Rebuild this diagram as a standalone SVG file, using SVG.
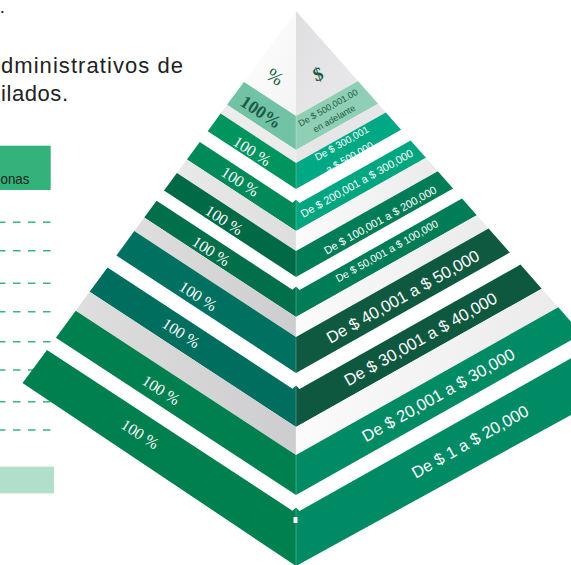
<svg xmlns="http://www.w3.org/2000/svg" width="571" height="565" viewBox="0 0 571 565">
<defs>
<style>
.hdr{font-family:"Liberation Sans",Arial,sans-serif;font-size:22px;fill:#222222}
.pl{font-family:"Liberation Serif","DejaVu Serif",serif;font-size:16px;fill:#ffffff;text-anchor:middle}
.pr{font-family:"Liberation Sans",Arial,sans-serif;fill:#ffffff;text-anchor:middle}
.dash{stroke:#3db47e;stroke-width:1.6;stroke-dasharray:7.5 7.5;fill:none}
</style>
<linearGradient id="gApexL" x1="0" y1="0" x2="1" y2="1"><stop offset="0" stop-color="#ffffff"/><stop offset="1" stop-color="#f4f4f4"/></linearGradient>
<linearGradient id="gApexR" x1="0" y1="0" x2="1" y2="1"><stop offset="0" stop-color="#dfdfe1"/><stop offset="1" stop-color="#eaeaec"/></linearGradient>
<linearGradient id="gStripL1" x1="0" y1="0" x2="1" y2="0"><stop offset="0" stop-color="#e9e9e9"/><stop offset="1" stop-color="#dedede"/></linearGradient>
<linearGradient id="gStripL" x1="0" y1="0" x2="1" y2="0"><stop offset="0" stop-color="#dedede"/><stop offset="1" stop-color="#cdcdcf"/></linearGradient>
<linearGradient id="gStripR" x1="0" y1="0" x2="1" y2="0"><stop offset="0" stop-color="#fbfbfb"/><stop offset="1" stop-color="#ebebeb"/></linearGradient>
</defs>
<rect x="0" y="0" width="571" height="565" fill="#ffffff"/>

<g id="header">
<text x="0.5" y="12.5" style="font-family:'Liberation Sans',Arial,sans-serif;font-size:13px;font-weight:bold;fill:#222222">.</text>
<text class="hdr" x="1" y="73" textLength="182" lengthAdjust="spacing">dministrativos de</text>
<text class="hdr" x="1" y="101" textLength="67" lengthAdjust="spacing">ilados.</text>
</g>

<g id="legend">
<rect x="0" y="145.7" width="50.7" height="44.3" fill="#34b27b"/>
<text x="0.5" y="184" textLength="29" lengthAdjust="spacingAndGlyphs" style="font-family:'Liberation Sans',Arial,sans-serif;font-size:14.5px;fill:#1e1e1e">onas</text>
<rect x="0" y="466.7" width="54" height="26.6" fill="#b0dfcb"/>
</g>

<g id="rules">
<line class="dash" x1="-2" y1="222.3" x2="51.5" y2="222.3"/>
<line class="dash" x1="-2" y1="250.7" x2="51.5" y2="250.7"/>
<line class="dash" x1="-2" y1="283.3" x2="51.5" y2="283.3"/>
<line class="dash" x1="-2" y1="311.7" x2="51.5" y2="311.7"/>
<line class="dash" x1="-2" y1="341.7" x2="51.5" y2="341.7"/>
<line class="dash" x1="-2" y1="370" x2="51.5" y2="370"/>
<line class="dash" x1="-2" y1="401.7" x2="51.5" y2="401.7"/>
<line class="dash" x1="-2" y1="430" x2="51.5" y2="430"/>
</g>

<g id="pyramid">
<g id="apex">
<polygon points="296,11 243.9,81.9 296,116" fill="url(#gApexL)"/>
<polygon points="296,11 358,81.1 296,116" fill="url(#gApexR)"/>
<text transform="translate(275,77) rotate(33.2)" y="6" style="font-family:'Liberation Serif',serif;font-size:19px;fill:#1b5b45;text-anchor:middle">%</text>
<text transform="translate(318,74) rotate(-20)" y="6.5" style="font-family:'Liberation Serif',serif;font-size:19px;font-weight:bold;fill:#1b5b45;text-anchor:middle">$</text>
</g>

<g id="tier-1">
<polygon points="243.9,81.9 296,116 296,150 227,104.8" fill="#72c2a5"/>
<polygon points="296,116 358,81.1 378.1,103.8 296,150" fill="#8fcfb5"/>
<polygon points="227,104.8 296,150 296,163 220.6,113.6" fill="#ececec"/>
<polygon points="296,150 378.1,103.8 385.8,112.5 296,163" fill="#e6e6e8"/>
<text transform="translate(261,112) rotate(33.2)" y="6" style="font-family:'Liberation Serif',serif;font-size:18px;font-weight:bold;fill:#1b5b45;text-anchor:middle">100%</text>
<text class="pr" transform="translate(331,113) rotate(-29.4)" style="font-size:9px;fill:#1d5e48"><tspan x="0" y="-3">De $ 500,001.00</tspan><tspan x="0" y="9.5">en adelante</tspan></text>
</g>

<g id="tier-2">
<polygon points="220.6,113.6 296,163 296,189 207.7,131.2" fill="#00945e"/>
<polygon points="296,163 385.8,112.5 401.1,129.8 296,189" fill="#00a884"/>
<text class="pl" transform="translate(252,151) rotate(33.2)" y="5.5">100 %</text>
<text class="pr" transform="translate(341.7,143.3) rotate(-29.4)" style="font-size:10px"><tspan x="0" y="3.5">De $ 300,001</tspan><tspan x="0" y="19.5">a $ 500,000</tspan></text>
</g>

<g id="tier-3">
<polygon points="199.8,142 292.5,202.7 296,199.5 296,231 186.9,159.5" fill="#008a5a"/>
<polygon points="296,199.5 299.5,203 410.6,140.5 426,157.8 296,231" fill="#00a680"/>
<polygon points="186.9,159.5 296,231 296,251 176.9,173" fill="url(#gStripL1)"/>
<polygon points="296,231 426,157.8 437.8,171.2 296,251" fill="url(#gStripR)"/>
<text class="pl" transform="translate(240,181.5) rotate(33.2)" y="5.5">100 %</text>
<text class="pr" transform="translate(356.8,183.3) rotate(-29.4)" y="3.9" style="font-size:11px">De $ 200,001 a $ 300,000</text>
</g>

<g id="tier-4">
<polygon points="176.9,173 296,251 296,277 164,190.6" fill="#006a47"/>
<polygon points="296,251 437.8,171.2 453.1,188.5 296,277" fill="#007d57"/>
<text class="pl" transform="translate(224,220) rotate(33.2)" y="5.5">100 %</text>
<text class="pr" transform="translate(380.2,220) rotate(-29.4)" y="3.9" style="font-size:11px">De $ 100,001 a $ 200,000</text>
</g>

<g id="tier-5">
<polygon points="156.6,200.7 292.5,289.7 296,286.5 296,317 144.2,217.6" fill="#006f4a"/>
<polygon points="296,286.5 299.5,290 462,198.6 476.8,215.2 296,317" fill="#007c56"/>
<polygon points="144.2,217.6 296,317 296,337 134.3,231.1" fill="url(#gStripL)"/>
<polygon points="296,317 476.8,215.2 488.6,228.6 296,337" fill="url(#gStripR)"/>
<text class="pl" transform="translate(211,251) rotate(33.2)" y="5.5">100 %</text>
<text class="pr" transform="translate(386.8,251) rotate(-29.4)" y="3.7" style="font-size:10.5px">De $ 50,001 a $ 100,000</text>
</g>

<g id="tier-6">
<polygon points="134.3,231.1 296,337 296,373 116.4,255.4" fill="#007161"/>
<polygon points="296,337 488.6,228.6 509.8,252.6 296,373" fill="#0e5940"/>
<text class="pl" transform="translate(198,296) rotate(33.2)" y="5.5">100 %</text>
<text class="pr" transform="translate(402.7,296.5) rotate(-29.4)" y="5.8" style="font-size:16.5px">De $ 40,001 a $ 50,000</text>
</g>

<g id="tier-7">
<polygon points="107.5,267.5 292.5,388.7 296,385.5 296,427 89.6,291.8" fill="#006e5f"/>
<polygon points="296,385.5 299.5,389 520.5,264.6 541.7,288.7 296,427" fill="#0f5840"/>
<polygon points="89.6,291.8 296,427 296,455 75.7,310.7" fill="url(#gStripL)"/>
<polygon points="296,427 541.7,288.7 558.3,307.3 296,455" fill="url(#gStripR)"/>
<text class="pl" transform="translate(181,333) rotate(33.2)" y="5.5">100 %</text>
<text class="pr" transform="translate(420.5,339) rotate(-29.4)" y="5.8" style="font-size:16.5px">De $ 30,001 a $ 40,000</text>
</g>

<g id="tier-8">
<polygon points="75.7,310.7 296,455 296,495 55.9,337.7" fill="#00804f"/>
<polygon points="296,455 558.3,307.3 581.9,334 296,495" fill="#008b64"/>
<text class="pl" transform="translate(161,390) rotate(33.2)" y="5.5">100 %</text>
<text class="pr" transform="translate(438.3,395) rotate(-29.4)" y="5.8" style="font-size:16.5px">De $ 20,001 a $ 30,000</text>
</g>

<g id="tier-9">
<polygon points="47,349.9 292.5,510.7 296,507.5 296,566 22.5,383" fill="#00804f"/>
<polygon points="296,507.5 299.5,511 600,341.9 600,399.1 296,566" fill="#008b64"/>
<text class="pl" transform="translate(140,434) rotate(33.2)" y="5.5">100 %</text>
<text class="pr" transform="translate(470,441.7) rotate(-29.4)" y="5.8" style="font-size:16.5px">De $ 1 a $ 20,000</text>
</g>

<line x1="296" y1="116" x2="296" y2="566" stroke="#ffffff" stroke-opacity="0.25" stroke-width="1"/>
<rect x="293.5" y="517" width="4" height="6" fill="#ffffff"/>
</g>
</svg>
